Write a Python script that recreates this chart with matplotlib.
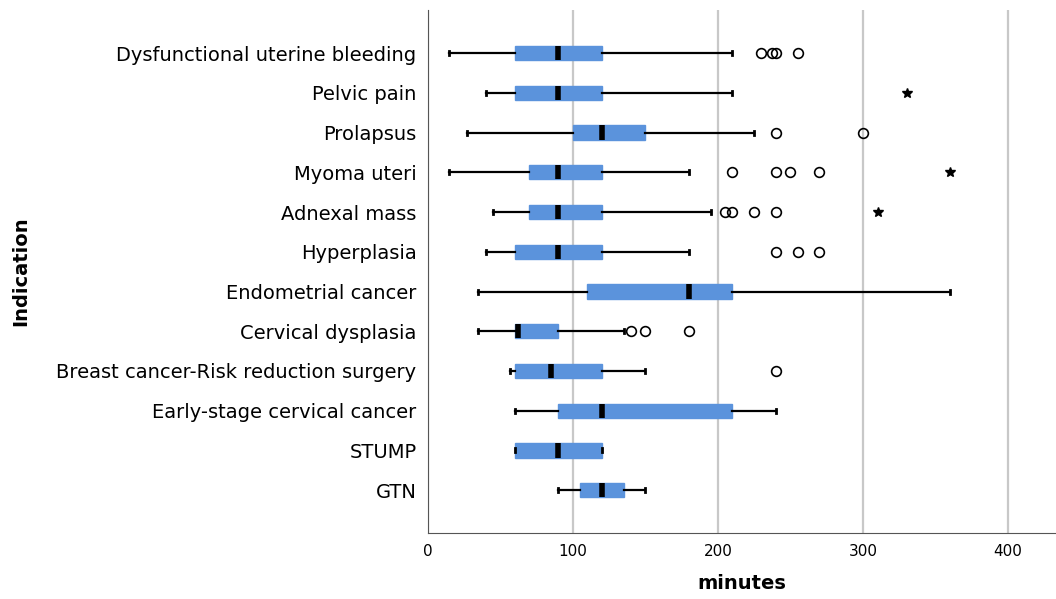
import numpy as np
import matplotlib
matplotlib.use('Agg')
import matplotlib.pyplot as plt

plt.rcParams['font.family'] = ['DejaVu Sans']

indications = [
    'Dysfunctional uterine bleeding', 'Pelvic pain', 'Prolapsus', 'Myoma uteri',
    'Adnexal mass', 'Hyperplasia', 'Endometrial cancer', 'Cervical dysplasia',
    'Breast cancer-Risk reduction surgery', 'Early-stage cervical cancer', 'STUMP', 'GTN',
]

# minutes
whisker_low = [15, 40, 27, 15, 45, 40, 35, 35, 57, 60, 60, 90]
q1 = [60, 60, 100, 70, 70, 60, 110, 60, 60, 90, 60, 105]
median = [90, 90, 120, 90, 90, 90, 180, 62, 85, 120, 90, 120]
q3 = [120, 120, 150, 120, 120, 120, 210, 90, 120, 210, 120, 135]
whisker_high = [210, 210, 225, 180, 195, 180, 360, 135, 150, 240, 120, 150]

outliers = [
    [230, 237, 240, 255],
    [],
    [240, 300],
    [210, 240, 250, 270],
    [205, 210, 225, 240],
    [240, 255, 270],
    [],
    [140, 150, 180],
    [240],
    [],
    [],
    [],
]
extremes = [[], [330], [], [360], [310], [], [], [], [], [], [], []]

box_color = '#5b93dc'

fig = plt.figure(figsize=(10.56, 5.99), dpi=100)
ax = fig.add_axes([0.405, 0.11, 0.595, 0.873])

stats = []
for i in range(len(indications)):
    stats.append({
        'med': median[i], 'q1': q1[i], 'q3': q3[i],
        'whislo': whisker_low[i], 'whishi': whisker_high[i],
        'fliers': outliers[i], 'label': indications[i],
    })

positions = np.arange(1, len(indications) + 1)
ax.bxp(
    stats, positions=positions, vert=False, widths=0.36, patch_artist=True,
    showfliers=True, capwidths=0.1,
    boxprops=dict(facecolor=box_color, edgecolor=box_color, linewidth=1),
    medianprops=dict(color='black', linewidth=4, solid_capstyle='butt'),
    whiskerprops=dict(color='black', linewidth=1.6),
    capprops=dict(color='black', linewidth=2),
    flierprops=dict(marker='o', markerfacecolor='none', markeredgecolor='black',
                    markersize=7, markeredgewidth=1.2),
    zorder=3,
)

for i, vals in enumerate(extremes):
    if vals:
        ax.plot(vals, [positions[i]] * len(vals), linestyle='none', marker='*',
                color='black', markersize=7, zorder=4)

ax.set_xlim(0, 433)
ax.set_ylim(13.08, -0.08)
ax.set_xticks([0, 100, 200, 300, 400])
ax.xaxis.grid(True, color='#c8c8c8', linewidth=1.6)
ax.set_axisbelow(True)
ax.tick_params(axis='y', length=0, pad=8, labelsize=14)
ax.tick_params(axis='x', length=0, pad=8, labelsize=11)
ax.spines['top'].set_visible(False)
ax.spines['right'].set_visible(False)
ax.spines['left'].set_color('#555555')
ax.spines['bottom'].set_color('#555555')

ax.set_xlabel('minutes', fontsize=14, fontweight='bold', labelpad=11)
fig.text(0.02, 0.547, 'Indication', rotation=90, fontsize=14, fontweight='bold',
         ha='center', va='center')

fig.savefig('out.png', dpi=100)
